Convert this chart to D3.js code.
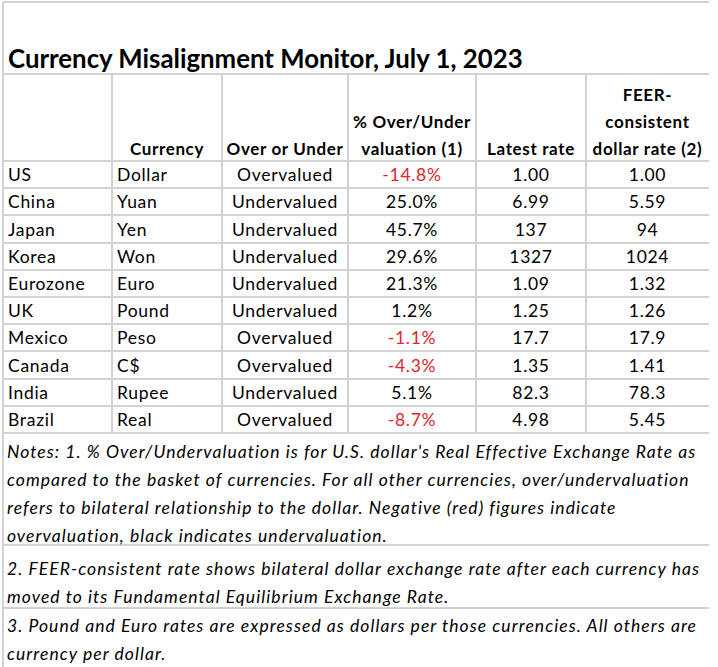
<!DOCTYPE html>
<html>
<head>
<meta charset="utf-8">
<script src="https://cdn.jsdelivr.net/npm/d3@7"></script>
<style>
body{margin:0;background:#fff}
</style>
</head>
<body>
<svg id="mySVG" width="718" height="667"></svg>
<script>
//---data---
var countries=["US","China","Japan","Korea","Eurozone","UK","Mexico","Canada","India","Brazil"]
var currencies=["Dollar","Yuan","Yen","Won","Euro","Pound","Peso","C$","Rupee","Real"]
var overUnder=["Overvalued","Undervalued","Undervalued","Undervalued","Undervalued","Undervalued","Overvalued","Overvalued","Undervalued","Overvalued"]
var pctValuation=[-14.8,25.0,45.7,29.6,21.3,1.2,-1.1,-4.3,5.1,-8.7]
var latestRate=["1.00","6.99","137","1327","1.09","1.25","17.7","1.35","82.3","4.98"]
var feerRate=["1.00","5.59","94","1024","1.32","1.26","17.9","1.41","78.3","5.45"]

var titleText="Currency Misalignment Monitor, July 1, 2023"
var headers=[
    [""],
    ["Currency"],
    ["Over or Under"],
    ["% Over/Under","valuation (1)"],
    ["Latest rate"],
    ["FEER-","consistent","dollar rate (2)"]
]
var notes=[
    ["Notes: 1. % Over/Undervaluation is for U.S. dollar's Real Effective Exchange Rate as",
     "compared to the basket of currencies. For all other currencies, over/undervaluation",
     "refers to bilateral relationship to the dollar. Negative (red) figures indicate",
     "overvaluation, black indicates undervaluation."],
    ["2. FEER-consistent rate shows bilateral dollar exchange rate after each currency has",
     "moved to its Fundamental Equilibrium Exchange Rate."],
    ["3. Pound and Euro rates are expressed as dollars per those currencies. All others are",
     "currency per dollar."]
]

var font="Lato, 'Open Sans', sans-serif"
var gridColor="#d2d2d2"
var red="#e3242b"

var svg=d3.select("#mySVG")

//---column edges---
var colKeys=["country","currency","over","pct","latest","feer"]
var colLeft=d3.scaleOrdinal().domain(colKeys).range([3,112,222,348,476,586])
var colRight=d3.scaleOrdinal().domain(colKeys).range([112,222,348,476,586,709])
var colAlign=d3.scaleOrdinal().domain(colKeys).range(["start","start","middle","middle","middle","middle"])
function colX(k)
{
    if(colAlign(k)=="start") return colLeft(k)+5
    return (colLeft(k)+colRight(k))/2
}

//---rows---
var rowY=d3.scaleBand().domain(countries).range([161,433])
var headLine=d3.scaleLinear().domain([0,1]).range([155,128]) //---baseline by line from bottom---
var noteLine=d3.scaleLinear().domain([0,1]).range([0,28])
var noteTop=d3.scaleOrdinal().domain([0,1,2]).range([458,575,632])
//---plain hyphen for negatives, like the sheet---
var pctFmt=d3.formatLocale({decimal:".",thousands:",",grouping:[3],currency:["$",""],minus:"-"}).format(".1f")

//---grid---
var grid=svg.append("g").attr("stroke",gridColor).attr("stroke-width",2).attr("shape-rendering","crispEdges")
var hLines=[2,74].concat(countries.map(function(c){return rowY(c)}),[433,545,608])
grid.selectAll("line.h").data(hLines).join("line")
    .attr("class","h")
    .attr("x1",3).attr("x2",709)
    .attr("y1",function(d){return d}).attr("y2",function(d){return d})
grid.append("line").attr("x1",3).attr("x2",3).attr("y1",2).attr("y2",667)
grid.selectAll("line.v").data(colKeys.slice(1)).join("line")
    .attr("class","v")
    .attr("x1",function(k){return colLeft(k)}).attr("x2",function(k){return colLeft(k)})
    .attr("y1",74).attr("y2",433)

//---title---
svg.append("text")
    .attr("x",8).attr("y",68)
    .attr("font-family",font).attr("font-weight","bold").attr("font-size",25.8)
    .attr("fill","#000")
    .text(titleText)

//---header---
var hg=svg.append("g").attr("font-family",font).attr("font-weight","bold").attr("font-size",17)
    .attr("letter-spacing",0.65)
colKeys.forEach(function(k,i){
    var lines=headers[i]
    hg.selectAll(null).data(lines).join("text")
        .attr("x",(colLeft(k)+colRight(k))/2)
        .attr("y",function(d,j){return headLine(lines.length-1-j)})
        .attr("text-anchor","middle")
        .text(function(d){return d})
})

//---body---
var rows=countries.map(function(c,i){
    return {country:c,currency:currencies[i],over:overUnder[i],pct:pctValuation[i],latest:latestRate[i],feer:feerRate[i]}
})
var bg=svg.append("g").attr("font-family",font).attr("font-size",17.5)
    .attr("letter-spacing",0.7)
colKeys.forEach(function(k){
    bg.selectAll(null).data(rows).join("text")
        .attr("x",colX(k))
        .attr("y",function(d){return rowY(d.country)+rowY.bandwidth()/2+6.5})
        .attr("text-anchor",colAlign(k))
        .attr("fill",function(d){return (k=="pct" && d.pct<0)?red:"#000"})
        .text(function(d){return k=="pct"?pctFmt(d.pct)+"%":d[k]})
})

//---notes---
var ng=svg.append("g").attr("font-family",font).attr("font-style","italic").attr("font-size",17.5)
    .attr("letter-spacing",1.05)
notes.forEach(function(lines,i){
    ng.selectAll(null).data(lines).join("text")
        .attr("x",7)
        .attr("y",function(d,j){return noteTop(i)+noteLine(j)})
        .text(function(d){return d})
})
</script>
</body>
</html>
